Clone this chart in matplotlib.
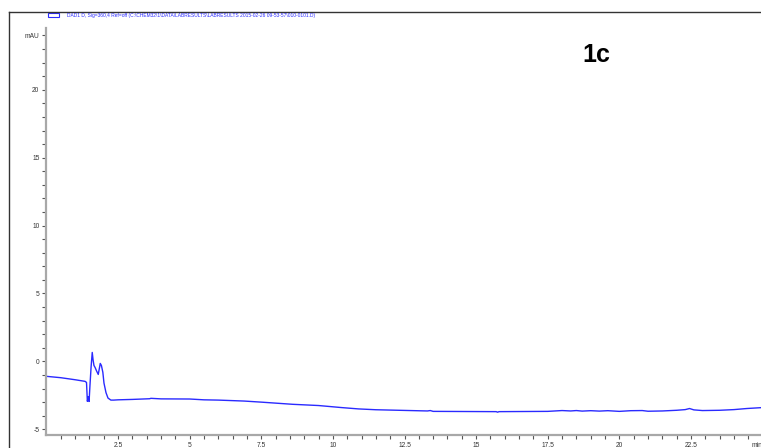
import matplotlib
matplotlib.use("Agg")
import matplotlib.pyplot as plt
from matplotlib.lines import Line2D
from matplotlib.patches import Rectangle
from matplotlib.transforms import ScaledTranslation

# DAD1 D signal, retention time [min] vs absorbance [mAU]
time_min = [0.0, 0.5, 1.0, 1.35, 1.40, 1.43, 1.46, 1.49, 1.52, 1.56, 1.60, 1.63, 1.66,
            1.70, 1.75, 1.81, 1.85, 1.88, 1.92, 1.97, 2.01, 2.08, 2.15, 2.25, 2.35,
            2.5, 3.0, 3.6, 3.65, 4.0, 5.0, 5.5, 6.0, 6.9, 7.5, 8.6, 9.5, 10.3, 10.9,
            11.5, 12.3, 13.3, 13.4, 13.5, 15.7, 15.75, 15.8, 17.5, 18.0, 18.3, 18.5,
            18.7, 19.0, 19.3, 19.6, 20.0, 20.4, 20.8, 21.0, 21.5, 22.0, 22.3, 22.45,
            22.6, 22.9, 23.5, 24.0, 24.45, 25.0]
signal_mau = [-1.10, -1.20, -1.35, -1.47, -1.55, -2.94, -2.60, -2.95, -1.80, -0.40, 0.66,
              0.10, -0.30, -0.45, -0.70, -0.96, -0.50, -0.15, -0.30, -0.80, -1.60, -2.30,
              -2.70, -2.85, -2.85, -2.83, -2.80, -2.75, -2.72, -2.76, -2.77, -2.83, -2.85,
              -2.92, -3.00, -3.16, -3.25, -3.40, -3.50, -3.56, -3.60, -3.65, -3.62, -3.68,
              -3.70, -3.74, -3.70, -3.68, -3.62, -3.65, -3.62, -3.66, -3.63, -3.66, -3.63,
              -3.68, -3.63, -3.62, -3.67, -3.65, -3.60, -3.55, -3.47, -3.57, -3.62, -3.60,
              -3.55, -3.47, -3.40]

y_major = [-5, 0, 5, 10, 15, 20, 24]
y_labels = ['-5', '0', '5', '10', '15', '20', 'mAU']
x_major = [2.5, 5, 7.5, 10, 12.5, 15, 17.5, 20, 22.5, 25]
x_labels = ['2.5', '5', '7.5', '10', '12.5', '15', '17.5', '20', '22.5', 'min']
trace_title = r'DAD1 D, Sig=360,4 Ref=off (C:\CHEM32\1\DATA\LABRESULTS\LABRESULTS 2015-02-26 09-53-57\010-0101.D)'

W, H = 761, 448
fig = plt.figure(figsize=(W / 100, H / 100), dpi=100)
fig.patch.set_facecolor('white')

x0, x1 = 46.4, 762.6
y0, y1 = 435, 28
ax = fig.add_axes([x0 / W, (H - y0) / H, (x1 - x0) / W, (y0 - y1) / H])
ax.plot(time_min, signal_mau, color='#2a2aff', lw=1.0)
ax.set_xlim(0, 25)
ax.set_ylim(-5.42, 24.55)

for s in ['top', 'right']:
    ax.spines[s].set_visible(False)
for s in ['left', 'bottom']:
    ax.spines[s].set_color('#a8a8a8')
    ax.spines[s].set_linewidth(1.6)

ax.set_yticks(y_major)
ax.set_yticklabels(y_labels)
ax.set_yticks([v for v in range(-4, 24) if v % 5 != 0], minor=True)
ax.set_xticks(x_major)
ax.set_xticklabels(x_labels)
ax.set_xticks([v * 0.5 for v in range(1, 50) if v % 5 != 0], minor=True)
ax.tick_params(which='both', direction='out', length=3, width=0.8, color='#555555',
               labelsize=4.8, labelcolor='#333333', pad=2)
for lab in ax.get_xticklabels() + ax.get_yticklabels():
    lab.set_family('Liberation Sans')
# time unit sits at the right end, pulled in a little from the edge
unit_lab = ax.get_xticklabels()[-1]
unit_lab.set_transform(unit_lab.get_transform() + ScaledTranslation(-6 / 100, 0, fig.dpi_scale_trans))

# outer frame of the report
fig.add_artist(Line2D([9 / W, 9 / W], [0, (H - 12) / H], color='#333333', lw=1.0))
fig.add_artist(Line2D([9 / W, 1], [(H - 12) / H, (H - 12) / H], color='#333333', lw=1.0))

# signal legend
fig.add_artist(Rectangle((48 / W, (H - 17.5) / H), 11 / W, 4.5 / H, fill=False,
                         edgecolor='#2a2aff', lw=0.8))
fig.text(67 / W, (H - 15.5) / H, trace_title, color='#2a2aff', fontsize=3.5,
         family='Liberation Sans', va='center', ha='left')

fig.text(596 / W, (H - 55) / H, '1c', fontsize=18, fontweight='bold',
         family='Liberation Sans', ha='center', va='center')

fig.savefig('out.png', dpi=100)
